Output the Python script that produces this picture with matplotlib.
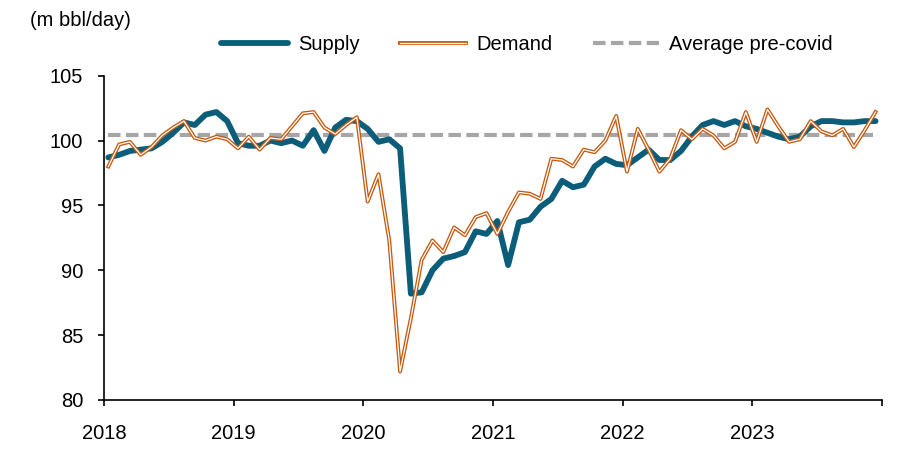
import matplotlib
matplotlib.use("Agg")
import matplotlib.pyplot as plt
import matplotlib.patheffects as pe
import numpy as np

plt.rcParams['font.family'] = ['Liberation Sans', 'DejaVu Sans']

years = ["2018", "2019", "2020", "2021", "2022", "2023"]

supply = [98.7, 98.9, 99.2, 99.3, 99.4, 99.9, 100.6, 101.4, 101.2, 102.0, 102.2, 101.5,
          99.8, 99.6, 99.6, 100.0, 99.8, 100.0, 99.6, 100.8, 99.2, 101.0, 101.6, 101.5,
          100.9, 99.9, 100.1, 99.4, 88.2, 88.3, 90.0, 90.9, 91.1, 91.4, 93.0, 92.8,
          93.8, 90.4, 93.7, 93.9, 94.9, 95.5, 96.9, 96.4, 96.6, 98.0, 98.6, 98.2,
          98.1, 98.7, 99.3, 98.5, 98.5, 99.2, 100.3, 101.2, 101.5, 101.2, 101.5, 101.1,
          100.9, 100.6, 100.3, 100.1, 100.3, 101.1, 101.5, 101.5, 101.4, 101.4, 101.5, 101.5]

demand = [98.0, 99.7, 99.9, 98.9, 99.5, 100.4, 101.0, 101.5, 100.2, 100.0, 100.3, 100.1,
          99.4, 100.3, 99.3, 100.2, 100.1, 101.1, 102.1, 102.2, 101.0, 100.5, 101.2, 101.8,
          95.3, 97.4, 92.3, 82.2, 86.3, 90.8, 92.3, 91.4, 93.3, 92.7, 94.1, 94.4,
          92.8, 94.5, 96.0, 95.9, 95.5, 98.6, 98.5, 98.0, 99.3, 99.1, 100.0, 101.9,
          97.6, 100.9, 99.3, 97.6, 98.6, 100.8, 100.1, 100.9, 100.4, 99.4, 99.9, 102.2,
          99.9, 102.4, 101.1, 99.9, 100.1, 101.5, 100.7, 100.4, 100.9, 99.5, 100.8, 102.2]

avg_precovid = 100.45

x = np.arange(len(supply)) + 0.4

fig = plt.figure(figsize=(9.11, 4.5), dpi=100)
ax = fig.add_axes([104/911, 1-400/450, (882-104)/911, (400-75.7)/450])

ax.plot(x, [avg_precovid]*len(x), color='#A6A6A6', lw=3.0, dashes=(3.0, 1.3),
        label='Average pre-covid', zorder=2, solid_capstyle='butt')
ax.plot(x, supply, color='#0B5D79', lw=4.2, label='Supply', zorder=3,
        solid_joinstyle='round', solid_capstyle='round')
ax.plot(x, demand, color='white', lw=0.9, label='Demand', zorder=4,
        path_effects=[pe.Stroke(linewidth=2.8, foreground='#C55A11'), pe.Normal()])

ax.set_xlim(0, 72)
ax.set_ylim(80, 105)
ax.set_yticks([80, 85, 90, 95, 100, 105])
ax.set_xticks(np.arange(0, 73, 12))
ax.set_xticklabels(years + [""])

for s in ['top', 'right']:
    ax.spines[s].set_visible(False)
for s in ['left', 'bottom']:
    ax.spines[s].set_linewidth(1.2)
    ax.spines[s].set_color('black')

ax.tick_params(axis='y', direction='out', length=4, width=1.2, pad=11, labelsize=14.5)
ax.tick_params(axis='x', direction='out', length=4, width=1.2, pad=13, labelsize=14.5)
for lab in ax.get_xticklabels():
    lab.set_x(lab.get_position()[0])

fig.text(30/911, 1-20/450, "(m bbl/day)", fontsize=14.5, va='center', ha='left')

h, l = ax.get_legend_handles_labels()
order = [1, 2, 0]
leg = fig.legend([h[i] for i in order], [l[i] for i in order], loc='center',
                 bbox_to_anchor=(527/911, 1-45/450), ncol=3, frameon=False,
                 fontsize=14.5, handlelength=3.3, handletextpad=0.5,
                 columnspacing=2.0, borderaxespad=0)

fig.savefig("out.png", dpi=100)
